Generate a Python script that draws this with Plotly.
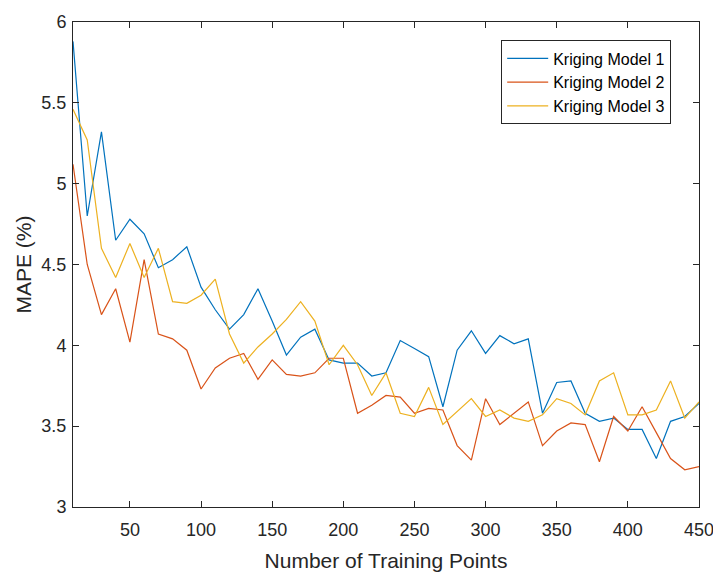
import plotly.graph_objects as go

training_points = list(range(10, 451, 10))

model1 = [5.88, 4.80, 5.32, 4.65, 4.78, 4.69, 4.48, 4.53, 4.61, 4.36,
          4.22, 4.10, 4.19, 4.35, 4.15, 3.94, 4.05, 4.10, 3.91, 3.89,
          3.89, 3.81, 3.83, 4.03, 3.98, 3.93, 3.62, 3.97, 4.09, 3.95,
          4.06, 4.01, 4.04, 3.58, 3.77, 3.78, 3.58, 3.53, 3.55, 3.48,
          3.48, 3.30, 3.53, 3.56, 3.64]

model2 = [5.12, 4.50, 4.19, 4.35, 4.02, 4.53, 4.07, 4.04, 3.97, 3.73,
          3.86, 3.92, 3.95, 3.79, 3.91, 3.82, 3.81, 3.83, 3.92, 3.92,
          3.58, 3.63, 3.69, 3.68, 3.58, 3.61, 3.60, 3.38, 3.29, 3.67,
          3.51, 3.58, 3.65, 3.38, 3.47, 3.52, 3.51, 3.28, 3.56, 3.47,
          3.62, 3.46, 3.30, 3.23, 3.25]

model3 = [5.46, 5.27, 4.60, 4.42, 4.63, 4.42, 4.60, 4.27, 4.26, 4.31,
          4.41, 4.07, 3.89, 3.99, 4.07, 4.16, 4.27, 4.15, 3.88, 4.00,
          3.88, 3.69, 3.83, 3.58, 3.56, 3.74, 3.51, 3.59, 3.67, 3.56,
          3.60, 3.55, 3.53, 3.57, 3.67, 3.64, 3.57, 3.78, 3.83, 3.57,
          3.57, 3.60, 3.78, 3.55, 3.65]

series_names = ["Kriging Model 1", "Kriging Model 2", "Kriging Model 3"]
series_colors = ["#0072BD", "#D95319", "#EDB120"]

x_tickvals = [50, 100, 150, 200, 250, 300, 350, 400, 450]
y_tickvals = [3, 3.5, 4, 4.5, 5, 5.5, 6]
y_ticktext = ["3", "3.5", "4", "4.5", "5", "5.5", "6"]

fig = go.Figure()
for name, color, vals in zip(series_names, series_colors, [model1, model2, model3]):
    fig.add_trace(go.Scatter(x=training_points, y=vals, mode="lines", name=name,
                             line=dict(color=color, width=1.2)))

axis_color = "#262626"
font_family = "Liberation Sans, Arial, sans-serif"

fig.update_layout(
    width=713, height=572,
    margin=dict(l=73, r=14, t=15, b=65),
    plot_bgcolor="white", paper_bgcolor="white",
    font=dict(family=font_family, color=axis_color),
    showlegend=True,
    legend=dict(x=0.684, y=0.962, xanchor="left", yanchor="top",
                bordercolor=axis_color, borderwidth=1, bgcolor="white",
                font=dict(size=16, family=font_family, color="#000000"),
                tracegroupgap=0, itemwidth=41),
    xaxis=dict(range=[10, 450], tickvals=x_tickvals, ticks="inside", ticklen=6,
               tickcolor=axis_color, showline=True, linecolor=axis_color, linewidth=1,
               mirror="ticks", showgrid=False, zeroline=False, automargin=False,
               ticklabelstandoff=6, ticklabeloverflow="allow",
               tickfont=dict(size=18, color=axis_color),
               title=dict(text="Number of Training Points", font=dict(size=21, color=axis_color))),
    yaxis=dict(range=[3, 6], tickvals=y_tickvals, ticktext=y_ticktext, ticks="inside", ticklen=6,
               tickcolor=axis_color, showline=True, linecolor=axis_color, linewidth=1,
               mirror="ticks", showgrid=False, zeroline=False, automargin=True,
               ticklabelstandoff=2, ticklabeloverflow="allow",
               tickfont=dict(size=18, color=axis_color),
               title=dict(text="MAPE (%)", font=dict(size=21, color=axis_color), standoff=4)),
)

fig.write_html("out.html")
